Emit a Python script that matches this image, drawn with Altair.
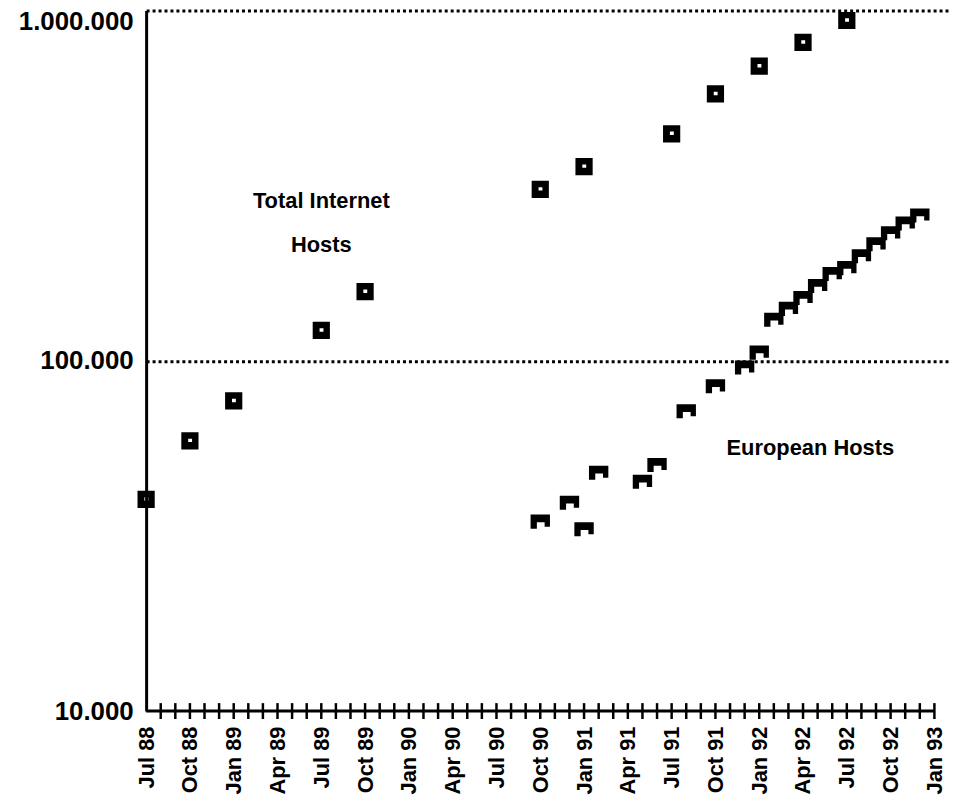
import altair as alt
import pandas as pd

# ---------------- data ----------------
total_dates = ["1988-07", "1988-10", "1989-01", "1989-07", "1989-10", "1990-10",
               "1991-01", "1991-07", "1991-10", "1992-01", "1992-04", "1992-07"]
total_hosts = [40200, 59100, 76800, 122100, 157500, 308700,
               358500, 444800, 577800, 693600, 811300, 936700]

europe_dates = ["1990-10", "1990-12", "1991-01", "1991-02", "1991-05", "1991-06",
                "1991-08", "1991-10", "1991-12", "1992-01", "1992-02", "1992-03",
                "1992-04", "1992-05", "1992-06", "1992-07", "1992-08", "1992-09",
                "1992-10", "1992-11", "1992-12"]
europe_hosts = [34800, 39400, 33100, 48000, 45200, 50500,
                71900, 84700, 95900, 105700, 131200, 140900,
                151400, 163800, 177100, 184200, 199200, 215400,
                231500, 247100, 260400]

tick_labels = ["Jul 88", "Oct 88", "Jan 89", "Apr 89", "Jul 89", "Oct 89", "Jan 90",
               "Apr 90", "Jul 90", "Oct 90", "Jan 91", "Apr 91", "Jul 91", "Oct 91",
               "Jan 92", "Apr 92", "Jul 92", "Oct 92", "Jan 93"]
axis_start, axis_end = "1988-07", "1993-01"

y_values = [10000, 100000, 1000000]
y_labels = ["10.000", "100.000", "1.000.000"]

ann_text = ["Total Internet", "Hosts", "European Hosts"]
ann_month = [12, 12, 45.5]
ann_value = [285000, 214000, 56500]

FONT = "Liberation Sans, Arial, sans-serif"


def midx(s):
    y, m = map(int, s.split("-"))
    return (y - 1988) * 12 + (m - 7)


m0, m1 = midx(axis_start), midx(axis_end)

total_df = pd.DataFrame({"m": [midx(d) for d in total_dates], "v": total_hosts})
eu_df = pd.DataFrame({"m": [midx(d) for d in europe_dates], "v": europe_hosts})
ticks_df = pd.DataFrame({"m": list(range(m0 + 1, m1 + 1)), "v": y_values[0]})
axis_df = pd.DataFrame({"m": [m0], "m2": [m1], "v": [y_values[0]]})
ann_df = pd.DataFrame({"m": ann_month, "v": ann_value, "label": ann_text})

# ---------------- scales & axes ----------------
xs = alt.Scale(domain=[m0, m1 + 1], nice=False, zero=False)
ys = alt.Scale(type="log", domain=[y_values[0], y_values[-1]], nice=False)

x_label_expr = "[" + ",".join(f"'{l}'" for l in tick_labels) + "][round((datum.value - %d) / 3)]" % m0
xaxis = alt.Axis(values=[m0 + 3 * i for i in range(len(tick_labels))],
                 labelExpr=x_label_expr, labelAngle=270, labelFont=FONT,
                 labelFontSize=22, labelFontWeight="bold", labelColor="black",
                 labelPadding=15, ticks=False, domain=False, grid=False,
                 title=None, labelOverlap=False, labelFlush=False)

y_label_expr = " : ".join(f"datum.value == {v} ? '{l}'" for v, l in zip(y_values[:-1], y_labels[:-1])) \
    + f" : '{y_labels[-1]}'"
yaxis = alt.Axis(values=y_values, labelExpr=y_label_expr, labelFont=FONT,
                 labelFontSize=26, labelFontWeight="bold", labelColor="black",
                 labelPadding=13, ticks=False, domainColor="black", domainWidth=3,
                 grid=True, gridColor="black", gridWidth=3, gridDash=[3, 3],
                 gridOpacity={"condition": {"test": f"datum.value <= {y_values[0]}", "value": 0}, "value": 1},
                 labelBaseline={"condition": {"test": f"datum.value >= {y_values[-1]}", "value": "top"}, "value": "middle"},
                 labelOffset={"condition": {"test": f"datum.value >= {y_values[-1]}", "value": -2}, "value": 0},
                 title=None, labelFlush=False, labelOverlap=False)


def X(f):
    return alt.X(f"{f}:Q", scale=xs, axis=xaxis)


def Y(f):
    return alt.Y(f"{f}:Q", scale=ys, axis=yaxis)


SQUARE = "M-1,-1 L1,-1 L1,1 L-1,1 Z M-0.2,-0.25 L-0.2,0.15 L0.25,0.15 L0.25,-0.25 Z"
FLAG = "M-1,-0.7 L1,-0.7 L1,0.55 L0.45,0.55 L0.45,0.1 L-0.35,0.1 L-0.35,0.75 L-1,0.75 Z"

rule = alt.Chart(axis_df).mark_rule(strokeWidth=3, color="black").encode(
    x=X("m"), x2="m2", y=Y("v"))
ticks = alt.Chart(ticks_df).mark_tick(orient="vertical", size=16, thickness=2.5,
                                      color="black", opacity=1).encode(x=X("m"), y=Y("v"))
total = alt.Chart(total_df).mark_point(shape=SQUARE, filled=True, size=300,
                                       color="black", opacity=1).encode(x=X("m"), y=Y("v"))
eu = alt.Chart(eu_df).mark_point(shape=FLAG, filled=True, size=380,
                                 color="black", opacity=1).encode(x=X("m"), y=Y("v"))
texts = alt.Chart(ann_df).mark_text(font=FONT, fontSize=22, fontWeight="bold",
                                    color="black").encode(x=X("m"), y=Y("v"), text="label:N")

chart = alt.layer(rule, ticks, total, eu, texts).properties(
    width=808, height=705,
    padding={"left": 139, "top": 0, "right": 0, "bottom": 95},
    autosize="none",
    background="white",
).configure_view(stroke=None)

chart.save("out.html", embed_options={"renderer": "svg", "actions": False})
